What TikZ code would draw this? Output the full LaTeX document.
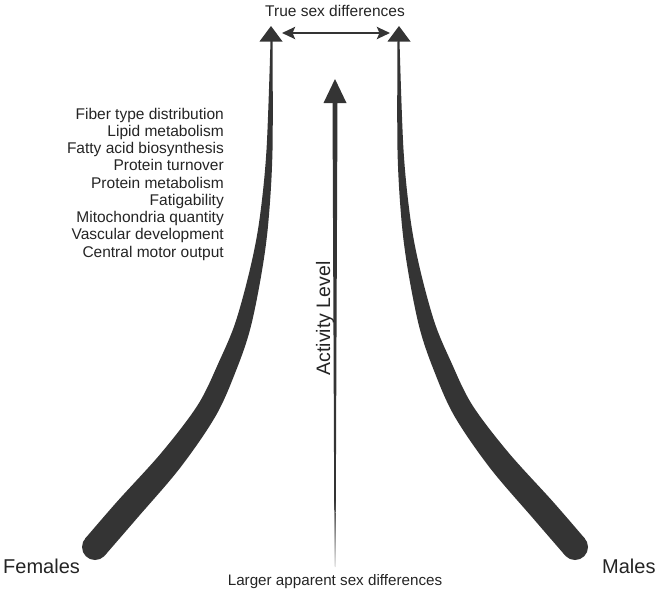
\documentclass[tikz,border=0pt]{standalone}
\usepackage{fontspec}
\setmainfont{Liberation Sans}
\usetikzlibrary{arrows.meta}
\definecolor{curvegray}{RGB}{52,52,52}
\definecolor{textgray}{RGB}{36,36,36}
\def\fsize#1#2{\fontsize{#1}{#2}\selectfont}
\def\sexcurve{
	\fill[color=curvegray] plot[smooth, tension=0.55] coordinates {(270.5,41) (266.5,149.8) (259.5,219.4) (250.1,268.7) (235.4,322.5) (219.3,361.1) (198,404.6) (161.7,452.4) (117.2,501.5) (85.2,538.5)}
		-- plot[smooth, tension=0.55] coordinates {(104.8,555.5) (136.8,518.5) (180.3,467.6) (216,415.4) (236.7,368.9) (250.6,327.5) (261.9,271.3) (268.5,220.6) (272.5,150.2) (272.5,41)} -- cycle;
	\fill[color=curvegray] (95,547) circle (13pt);
	\fill[color=curvegray] (271,26) -- (282.5,41.5) -- (259.5,41.5) -- cycle;
}

\begin{document}
\begin{tikzpicture}[x=1pt, y=-1pt, every node/.style={inner sep=0pt, text=textgray}]
			%%%%% FRAME %%%%%
			\useasboundingbox (0,0) rectangle (661,592);
			
			%%%%% CURVES %%%%%
			\sexcurve
			\begin{scope}[xshift=670pt, xscale=-1]
				\sexcurve
			\end{scope}
			
			\coordinate (ldbl) at (282,33);
			\coordinate (rdbl) at (390,33);
			\draw[line width=2.6pt, color=curvegray, {Stealth[length=13pt,width=12pt,inset=2.5pt]}-{Stealth[length=13pt,width=12pt,inset=2.5pt]}] (ldbl) -- (rdbl);
			
			%%%%% ACTIVITY %%%%%
			\fill[color=curvegray] (332.5,102) -- (337.5,102) -- (335.8,500) -- (334.2,500) -- cycle;
			\shade[top color=curvegray, bottom color=curvegray!12] (334.2,500) -- (335.8,500) -- (335.5,567) -- (334.5,567) -- cycle;
			\fill[color=curvegray] (335,79) -- (346.5,103) -- (323.5,103) -- cycle;
			
			%%%%% TEXT %%%%%
			\node[anchor=base] (truesex) at (335,16) {\fsize{15.5}{17.25}True sex differences};
			\node[anchor=north east, align=right, font=\fsize{15.5}{17.25}] (traits) at (224,107.7) {Fiber type distribution\\ Lipid metabolism\\ Fatty acid biosynthesis\\ Protein turnover\\ Protein metabolism\\ Fatigability\\ Mitochondria quantity\hspace{0.28em}\\ Vascular development\\ Central motor output};
			\node[anchor=base, rotate=90] (activity) at (330,318.5) {\fsize{19.5}{22}Activity Level};
			\node[anchor=base] (apparent) at (335,585) {\fsize{15.2}{17}Larger apparent sex differences};
			\node[anchor=base west] (females) at (3,573) {\fsize{20}{22}Females};
			\node[anchor=base west] (males) at (602,573) {\fsize{20}{22}Males};
		\end{tikzpicture}
\end{document}
